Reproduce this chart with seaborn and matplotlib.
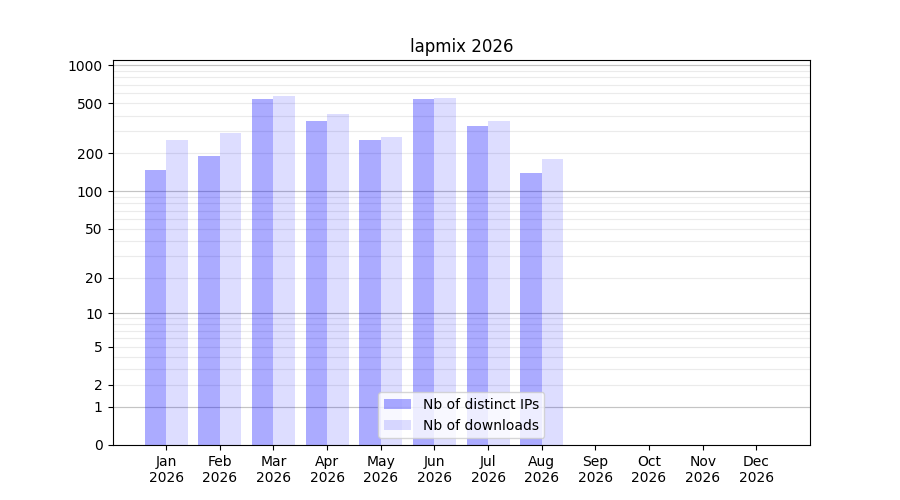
import numpy as np
import pandas as pd
import matplotlib
matplotlib.use("Agg")
import matplotlib.pyplot as plt
import seaborn as sns

# Monthly stats
months = ['Jan', 'Feb', 'Mar', 'Apr', 'May', 'Jun', 'Jul', 'Aug', 'Sep', 'Oct', 'Nov', 'Dec']
year = 2026
distinct_ips = [148, 192, 543, 363, 257, 543, 332, 140, 0, 0, 0, 0]
downloads = [254, 292, 573, 413, 271, 553, 363, 181, 0, 0, 0, 0]

ip_label = 'Nb of distinct IPs'
dl_label = 'Nb of downloads'

# Long format for seaborn
df = pd.DataFrame({
    'month': months * 2,
    'count': distinct_ips + downloads,
    'series': [ip_label] * len(months) + [dl_label] * len(months),
})

plt.rcParams['font.family'] = ['DejaVu Sans']
fig, ax = plt.subplots(figsize=(9, 5), dpi=100)

sns.barplot(data=df, x='month', y='count', hue='series', order=months,
            hue_order=[ip_label, dl_label], palette=['blue', 'blue'],
            saturation=1, errorbar=None, linewidth=0, legend=False,
            ax=ax, zorder=2)

# transparency like the original
for patch in ax.containers[0]:
    patch.set_alpha(0.33)
for patch in ax.containers[1]:
    patch.set_alpha(0.135)


# log(x+1) scale so that 0 fits on the axis
def fwd(v):
    return np.log10(np.clip(v, 0, None) + 1)


def inv(v):
    return 10 ** np.asarray(v) - 1


ax.set_yscale('function', functions=(fwd, inv))
ax.set_ylim(0, 1100)
major = [0, 1, 2, 5, 10, 20, 50, 100, 200, 500, 1000]
ax.set_yticks(major)
ax.set_yticklabels([str(t) for t in major])
minor = [m * d for d in (1, 10, 100) for m in (3, 4, 6, 7, 8, 9)]
ax.set_yticks(minor, minor=True)
ax.tick_params(axis='y', which='minor', length=0)
ax.yaxis.grid(True, which='both', color='#ebebeb', linewidth=0.8, zorder=0)
ax.set_axisbelow(True)
for d in (1, 10, 100, 1000):
    ax.axhline(d, color='#c4c4c4', linewidth=0.8, zorder=1)

ax.set_xlim(-1, 12)
ax.set_xticks(range(len(months)))
ax.set_xticklabels([f'{m}\n{year}' for m in months])
ax.set_xlabel('')
ax.set_ylabel('')
ax.set_title(f'lapmix {year}')

ax.legend(handles=ax.containers, labels=[ip_label, dl_label], loc='lower center')

plt.savefig('out.png', dpi=100)
